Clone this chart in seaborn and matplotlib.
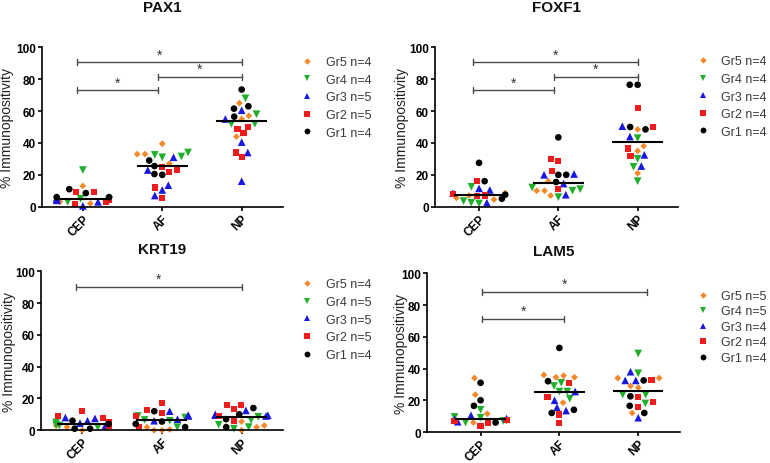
import numpy as np
import pandas as pd
import matplotlib
matplotlib.use("Agg")
import matplotlib.pyplot as plt
import seaborn as sns
from matplotlib.markers import MarkerStyle
from matplotlib.lines import Line2D
from seaborn.categorical import Beeswarm

# ---------------- data ----------------
categories = ["CEP", "AF", "NP"]
groups = ["Gr1", "Gr2", "Gr3", "Gr4", "Gr5"]
group_colors = ["#000000", "#EE1C1C", "#1818E0", "#1FAF2A", "#F5892A"]
group_markers = ["o", "s", "^", "v", "D"]

# each list: [CEP values, AF values, NP values]  (% immunopositivity)
pax1_gr1 = [[11, 8.5, 6, 6], [29, 25.5, 20.5, 20], [73.5, 63, 61.5, 56.5]]
pax1_gr2 = [[9, 9, 4, 3, 1.5], [25, 23, 22, 12, 5.5], [50, 49, 46, 34, 31]]
pax1_gr3 = [[5.5, 4.5, 4, 3, 0.5], [31, 23, 13.5, 10.5, 7], [60.5, 55, 40.5, 34, 16]]
pax1_gr4 = [[23, 5, 4, 3], [34, 32.5, 31.5, 31], [68, 58, 52, 52]]
pax1_gr5 = [[13, 5, 3, 2], [39.5, 33, 33, 27], [65, 57, 55, 44]]

foxf1_gr1 = [[27.5, 16, 7.5, 5], [43.5, 20, 20, 15.5], [76.5, 76.5, 50, 48.5]]
foxf1_gr2 = [[16, 8, 7, 6.5], [30, 28.5, 22.5, 11], [62, 50, 36.5, 32]]
foxf1_gr3 = [[11.5, 10.5, 8.5, 2.5], [20.5, 20, 14.5, 7.5], [50.5, 44, 32.5, 25.5]]
foxf1_gr4 = [[12.5, 3.5, 2.5, 2], [12, 11, 10, 6], [43, 30, 25, 16]]
foxf1_gr5 = [[8.5, 7, 5.5, 4.5], [16, 10, 10, 7], [48.5, 38, 35, 21]]

krt19_gr1 = [[6, 4, 1, 1], [12, 5.5, 4, 2], [14, 10, 7, 2]]
krt19_gr2 = [[12, 9, 8, 5, 3], [17, 13, 11, 9, 2], [16, 16, 13.5, 9, 6]]
krt19_gr3 = [[8, 7.5, 6, 4.5, 3], [12, 9.5, 9, 7, 6], [12.5, 10, 9.5, 9.5, 9]]
krt19_gr4 = [[5, 4, 3.5, 3, 2], [9, 8, 6.5, 6, 2], [8.5, 6.5, 3.5, 2, 1]]
krt19_gr5 = [[5, 3, 2, 0], [2, 0.5, 0, 0], [5.5, 3, 2, 0]]

lam5_gr1 = [[31, 20, 16.5, 6], [53, 32, 14, 12], [32.5, 22.5, 16.5, 12]]
lam5_gr2 = [[7.5, 7, 6, 4], [31, 22, 11, 5.5], [33, 22, 19, 16]]
lam5_gr3 = [[10.5, 8.5, 8, 6.5], [25.5, 20, 15.5, 13.5], [38, 32.5, 32.5, 9]]
lam5_gr4 = [[14, 9.5, 9, 7, 6], [31, 29, 25.5, 25.5, 21], [49.5, 37, 23.5, 23.5, 18]]
lam5_gr5 = [[34, 23.5, 11.5, 7, 6], [36, 35.5, 34.5, 34.5, 18.5], [34, 34, 29, 28, 12]]

# significance brackets: (from category, to category, height)
pax1_sig = [(0, 2, 90.5), (1, 2, 81.5), (0, 1, 73)]
foxf1_sig = [(0, 2, 90.5), (1, 2, 81.5), (0, 1, 73)]
krt19_sig = [(0, 2, 90)]
lam5_sig = [(0, 2, 88.5), (0, 1, 71.5)]

# ---------------- style ----------------
sns.set_theme(style="ticks")
plt.rcParams["font.family"] = ["Liberation Sans", "DejaVu Sans"]

fig = plt.figure(figsize=(7.7, 4.64), dpi=100)


def marker_path(m, scale):
    ms = MarkerStyle(m)
    return ms.get_path().transformed(ms.get_transform().scale(scale))


path_scale = {"o": 1.0, "s": 0.92, "^": 1.15, "v": 1.15, "D": 0.72}
paths = {g: marker_path(m, path_scale[m]) for g, m in zip(groups, group_markers)}
colors = dict(zip(groups, group_colors))

SWARM_PT = 5.4
DRAW_PT = 4.8

panels = [
    dict(name="PAX1", data=[pax1_gr1, pax1_gr2, pax1_gr3, pax1_gr4, pax1_gr5], sig=pax1_sig,
         rect=[0.0545, 0.5524, 0.313, 0.3435], xlim=(-0.515, 2.52), bx=[-0.08, 0.95, 2.0],
         pad=26, leg=(1.075, 0.945), lsp=0.45, ylab=-0.115),
    dict(name="FOXF1", data=[foxf1_gr1, foxf1_gr2, foxf1_gr3, foxf1_gr4, foxf1_gr5], sig=foxf1_sig,
         rect=[0.565, 0.5524, 0.3156, 0.3435], xlim=(-0.555, 2.51), bx=[-0.08, 0.95, 2.0],
         pad=26, leg=(1.077, 0.95), lsp=0.45, ylab=-0.107),
    dict(name="KRT19", data=[krt19_gr1, krt19_gr2, krt19_gr3, krt19_gr4, krt19_gr5], sig=krt19_sig,
         rect=[0.0532, 0.0705, 0.3143, 0.3427], xlim=(-0.52, 2.52), bx=[-0.08, 0.95, 2.0],
         pad=13, leg=(1.074, 0.955), lsp=0.45, ylab=-0.105),
    dict(name="LAM5", data=[lam5_gr1, lam5_gr2, lam5_gr3, lam5_gr4, lam5_gr5], sig=lam5_sig,
         rect=[0.5545, 0.0668, 0.3286, 0.342], xlim=(-0.68, 2.53), bx=[0.02, 1.06, 2.11],
         pad=13, leg=(1.066, 0.895), lsp=0.28, ylab=-0.075),
]

draw_order = ["Gr5", "Gr4", "Gr3", "Gr2", "Gr1"]

for p in panels:
    ax = fig.add_axes(p["rect"])
    gdata = dict(zip(groups, p["data"]))
    rows = []
    for ci, cat in enumerate(categories):
        for g in draw_order:
            for v in gdata[g][ci]:
                rows.append((cat, g, v))
    df = pd.DataFrame(rows, columns=["region", "group", "value"])

    sns.swarmplot(data=df, x="region", y="value", hue="group", order=categories,
                  hue_order=groups, palette=group_colors, size=SWARM_PT, linewidth=0,
                  legend=False, ax=ax, warn_thresh=1.0)
    ax.set_xlim(*p["xlim"])
    ax.set_ylim(0, 100)

    bs = Beeswarm(width=0.66, orient="x", warn_thresh=1.0)
    colls = list(ax.collections)
    for ci, coll in enumerate(colls[:3]):
        sub = df[df["region"] == categories[ci]]
        coll.set_sizes([SWARM_PT ** 2])
        bs(coll, ci)
        if "draw" in coll.__dict__:
            del coll.draw
        coll.set_sizes([DRAW_PT ** 2])
        coll.set_paths([paths[g] for g in sub["group"]])
        coll.set_facecolors([colors[g] for g in sub["group"]])
        coll.set_edgecolors("none")
        coll.set_clip_on(False)
        coll.set_zorder(2)
        med = np.median(sub["value"].to_numpy())
        ax.hlines(med, ci - 0.32, ci + 0.32, color="black", lw=1.5, zorder=3)

    # significance brackets
    for (i, j, h) in p["sig"]:
        x0, x1 = p["bx"][i], p["bx"][j]
        ax.plot([x0, x1], [h, h], color="#4a4a4a", lw=1.0, solid_capstyle="butt")
        for xx in (x0, x1):
            ax.plot([xx, xx], [h - 1.9, h + 1.9], color="#4a4a4a", lw=1.0)
        ax.text((x0 + x1) / 2, h + 0.6, "*", ha="center", va="bottom",
                fontsize=10, color="#333333")

    # axes styling
    sns.despine(ax=ax)
    for s in ("left", "bottom"):
        ax.spines[s].set_linewidth(1.2)
        ax.spines[s].set_color("black")
    ax.set_yticks([0, 20, 40, 60, 80, 100])
    ax.set_xticks(range(len(categories)))
    ax.set_xticklabels(categories, rotation=45, ha="right", rotation_mode="anchor",
                       fontweight="bold", fontsize=8.5)
    ax.tick_params(axis="y", labelsize=8.5, length=3, width=1.2, pad=1.5, colors="black")
    ax.tick_params(axis="x", length=3, width=1.2, pad=1, colors="black")
    for t in ax.get_yticklabels():
        t.set_fontweight("bold")
    ax.set_xlabel("")
    ax.set_ylabel("% Immunopositivity", fontsize=10, color="#222222")
    ax.yaxis.set_label_coords(p["ylab"], 0.5)
    ax.set_title(p["name"], fontsize=11, fontweight="bold", pad=p["pad"], color="#111111")

    # legend
    handles, labels = [], []
    for g in reversed(groups):
        gi = groups.index(g)
        m = group_markers[gi]
        ms = {"o": 4.2, "s": 4.0, "^": 4.6, "v": 4.6, "D": 3.3}[m]
        handles.append(Line2D([], [], ls="", marker=m, color=group_colors[gi],
                              markersize=ms, markeredgewidth=0))
        labels.append(f"{g} n={len(gdata[g][0])}")
    ax.legend(handles, labels, loc="upper left", bbox_to_anchor=p["leg"], frameon=False,
              borderpad=0, handlelength=1.0, handletextpad=0.97, labelspacing=p["lsp"],
              fontsize=9, labelcolor="#3a3a3a", borderaxespad=0)

fig.savefig("out.png", dpi=100)
